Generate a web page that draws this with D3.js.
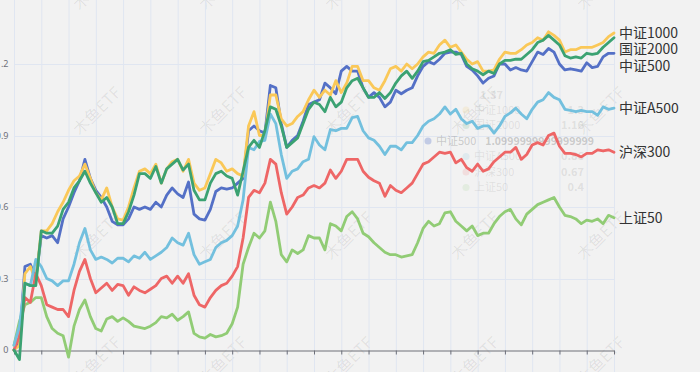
<!DOCTYPE html>
<html>
<head>
<meta charset="utf-8">
<script src="https://cdn.jsdelivr.net/npm/d3@7"></script>
<style>
  html, body { margin: 0; padding: 0; background: #f2f2f2; }
  svg { display: block; font-family: "Noto Sans CJK SC", "Noto Sans", sans-serif; }
</style>
</head>
<body>
<svg id="chart" width="700" height="372"></svg>
<script>
// Cumulative return of six indices (one value per trading step)
const zz1000 = [0.0, 0.02, 0.32, 0.35, 0.29, 0.5, 0.5, 0.53, 0.58, 0.62,
  0.67, 0.71, 0.73, 0.78, 0.72, 0.66, 0.63, 0.68, 0.6, 0.55,
  0.545, 0.6, 0.68, 0.75, 0.76, 0.74, 0.78, 0.7, 0.76, 0.79,
  0.8, 0.75, 0.8, 0.7, 0.67, 0.68, 0.74, 0.8, 0.785, 0.75,
  0.76, 0.74, 0.73, 0.94, 1.0, 0.9, 0.9, 1.07, 1.07, 0.97,
  0.94, 0.95, 0.98, 1.0, 1.05, 1.09, 1.06, 1.09, 1.07, 1.13,
  1.08, 1.12, 1.19, 1.19, 1.13, 1.13, 1.1, 1.09, 1.13, 1.18,
  1.19, 1.17, 1.2, 1.18, 1.2, 1.23, 1.25, 1.245, 1.28, 1.3,
  1.27, 1.28, 1.25, 1.22, 1.2, 1.21, 1.17, 1.17, 1.175, 1.22,
  1.25, 1.245, 1.245, 1.26, 1.28, 1.29, 1.31, 1.3, 1.335, 1.32,
  1.3, 1.25, 1.26, 1.26, 1.27, 1.27, 1.27, 1.28, 1.29, 1.315, 1.33];

const gz2000 = [0.0, -0.04, 0.28, 0.27, 0.27, 0.5, 0.49, 0.49, 0.52, 0.59,
  0.62, 0.68, 0.71, 0.75, 0.7, 0.66, 0.62, 0.64, 0.6, 0.53,
  0.53, 0.58, 0.65, 0.74, 0.74, 0.72, 0.77, 0.7, 0.76, 0.78,
  0.8, 0.755, 0.78, 0.67, 0.63, 0.63, 0.7, 0.74, 0.75, 0.73,
  0.72, 0.65, 0.75, 0.85, 0.88, 0.85, 0.92, 1.02, 1.01, 0.94,
  0.85, 0.87, 0.89, 0.95, 1.01, 1.04, 1.03, 1.0, 1.06, 1.02,
  1.04, 1.1, 1.13, 1.14, 1.1, 1.06, 1.06, 1.08, 1.055, 1.08,
  1.12, 1.15, 1.17, 1.14, 1.17, 1.21, 1.215, 1.23, 1.245, 1.25,
  1.26, 1.24, 1.245, 1.2, 1.18, 1.17, 1.155, 1.17, 1.16, 1.2,
  1.215, 1.215, 1.22, 1.22, 1.24, 1.26, 1.29, 1.3, 1.32, 1.3,
  1.28, 1.235, 1.225, 1.23, 1.225, 1.245, 1.24, 1.245, 1.27, 1.29, 1.31];

const zz500 = [0.0, 0.04, 0.35, 0.36, 0.3, 0.48, 0.47, 0.48, 0.45, 0.55,
  0.6, 0.66, 0.71, 0.8, 0.72, 0.67, 0.64, 0.6, 0.54, 0.525,
  0.525, 0.55, 0.6, 0.59, 0.6, 0.59, 0.62, 0.6, 0.65, 0.68,
  0.655, 0.64, 0.705, 0.57, 0.55, 0.545, 0.59, 0.665, 0.68, 0.675,
  0.68, 0.7, 0.72, 0.92, 0.94, 0.92, 0.91, 1.11, 1.1, 0.95,
  0.85, 0.88, 0.9, 0.96, 1.03, 1.04, 1.05, 1.12, 1.1, 1.075,
  1.17, 1.19, 1.17, 1.17, 1.1, 1.06, 1.08, 1.06, 1.02, 1.04,
  1.09, 1.075, 1.09, 1.1, 1.15, 1.19, 1.21, 1.2, 1.22, 1.245,
  1.25, 1.25, 1.24, 1.19, 1.175, 1.15, 1.12, 1.14, 1.15, 1.2,
  1.2, 1.175, 1.185, 1.175, 1.17, 1.21, 1.25, 1.24, 1.265, 1.25,
  1.2, 1.175, 1.18, 1.175, 1.17, 1.205, 1.185, 1.19, 1.23, 1.245, 1.245];

const zzA500 = [0.02, 0.1, 0.28, 0.27, 0.38, 0.35, 0.3, 0.29, 0.27, 0.29,
  0.29, 0.36, 0.45, 0.51, 0.42, 0.38, 0.39, 0.38, 0.365, 0.385,
  0.385, 0.37, 0.395, 0.385, 0.41, 0.38, 0.395, 0.41, 0.43, 0.47,
  0.45, 0.44, 0.49, 0.4, 0.36, 0.37, 0.38, 0.43, 0.45, 0.46,
  0.48, 0.52, 0.63, 0.85, 0.84, 0.875, 0.88, 0.99, 0.95, 0.82,
  0.72, 0.75, 0.76, 0.79, 0.8, 0.895, 0.86, 0.84, 0.925, 0.92,
  0.93, 0.93, 0.975, 0.98, 0.92, 0.89, 0.88, 0.855, 0.82, 0.855,
  0.855, 0.84, 0.87, 0.87, 0.9, 0.94, 0.96, 0.97, 0.99, 1.02,
  0.99, 1.01, 0.97, 0.95, 0.96, 0.93, 0.94, 0.94, 0.91, 0.94,
  0.98, 0.995, 1.015, 0.99, 0.97, 1.01, 1.04, 1.05, 1.08, 1.06,
  1.05, 1.01, 1.005, 1.0, 1.005, 1.0, 1.0, 0.985, 1.02, 1.01, 1.015];

const hs300 = [0.0, 0.06, 0.22, 0.2, 0.32, 0.27, 0.19, 0.18, 0.17, 0.17,
  0.14, 0.25, 0.33, 0.38, 0.3, 0.24, 0.26, 0.28, 0.25, 0.275,
  0.27, 0.23, 0.265, 0.25, 0.24, 0.255, 0.27, 0.3, 0.31, 0.28,
  0.31, 0.28, 0.32, 0.23, 0.19, 0.18, 0.22, 0.25, 0.27, 0.28,
  0.31, 0.35, 0.47, 0.64, 0.67, 0.66, 0.7, 0.8, 0.78, 0.66,
  0.57, 0.6, 0.64, 0.65, 0.68, 0.69, 0.68, 0.7, 0.755, 0.72,
  0.75, 0.8, 0.8, 0.8, 0.75, 0.725, 0.71, 0.7, 0.645, 0.69,
  0.67, 0.66, 0.68, 0.7, 0.74, 0.78, 0.79, 0.81, 0.83, 0.825,
  0.83, 0.785, 0.8, 0.765, 0.75, 0.78, 0.75, 0.76, 0.79, 0.81,
  0.83, 0.83, 0.85, 0.8, 0.82, 0.86, 0.87, 0.86, 0.9, 0.91,
  0.855, 0.825, 0.825, 0.82, 0.81, 0.825, 0.825, 0.84, 0.835, 0.84, 0.83];

const sz50 = [0.02, 0.12, 0.19, 0.2, 0.22, 0.22, 0.14, 0.09, 0.07, 0.06,
  -0.03, 0.1, 0.17, 0.21, 0.14, 0.09, 0.08, 0.13, 0.14, 0.12,
  0.135, 0.12, 0.1, 0.095, 0.09, 0.1, 0.115, 0.14, 0.135, 0.15,
  0.125, 0.14, 0.16, 0.07, 0.055, 0.05, 0.065, 0.055, 0.06, 0.07,
  0.11, 0.18, 0.36, 0.43, 0.49, 0.47, 0.5, 0.62, 0.54, 0.4,
  0.37, 0.42, 0.405, 0.42, 0.48, 0.47, 0.47, 0.42, 0.53, 0.52,
  0.5, 0.56, 0.58, 0.55, 0.49, 0.475, 0.45, 0.43, 0.41, 0.4,
  0.4, 0.39, 0.395, 0.4, 0.45, 0.51, 0.54, 0.52, 0.53, 0.575,
  0.58, 0.54, 0.52, 0.5, 0.52, 0.48, 0.49, 0.49, 0.53, 0.56,
  0.58, 0.59, 0.55, 0.525, 0.57, 0.59, 0.61, 0.62, 0.63, 0.64,
  0.6, 0.565, 0.56, 0.55, 0.53, 0.545, 0.54, 0.55, 0.53, 0.565, 0.555];

// drawing order = series order (later ones on top)
const seriesNames = ["中证500", "上证50", "中证1000", "沪深300", "中证A500", "国证2000"];
const seriesValues = [zz500, sz50, zz1000, hs300, zzA500, gz2000];
const seriesColors = ["#5470c6", "#91cc75", "#fac858", "#ee6666", "#73c0de", "#3ba272"];

const yTicks = [0, 0.3, 0.6, 0.9, 1.2];
const watermark = "木鱼ETF";

// faded tooltip left on the picture
const tipTitle = "1.37";
const tipNames = ["中证1000", "国证2000", "中证500", "中证A500", "沪深300", "上证50"];
const tipValues = ["1.3", "1.16", "1.0999999999999999", "0.86", "0.67", "0.4"];
const tipColors = ["#fac858", "#3ba272", "#5470c6", "#73c0de", "#ee6666", "#91cc75"];

const WIDTH = 700, HEIGHT = 372;
const MARGIN = {left: 14, right: 86, zeroY: 350};
const N = zz1000.length;

const svg = d3.select("#chart");

const x = d3.scaleLinear()
  .domain([0, N - 1])
  .range([MARGIN.left, WIDTH - MARGIN.right]);

const y = d3.scaleLinear()
  .domain([0, 1.2])
  .range([MARGIN.zeroY, 64]);

// watermark tiles
const wm = svg.append("g").attr("class", "watermark");
for (let j = 0; j < 4; j++) {
  for (let k = 0; k < 5; k++) {
    wm.append("text")
      .attr("transform", `translate(${97 + 126 * k},${-14 + 125 * j}) rotate(-45)`)
      .attr("text-anchor", "middle")
      .attr("dy", "0.35em")
      .style("font-size", "16px")
      .style("fill", "#000")
      .style("fill-opacity", 0.08)
      .text(watermark);
  }
}

// vertical grid + x ticks
const xTickValues = d3.range(0, N, 5);
svg.append("g")
  .selectAll("line")
  .data(xTickValues)
  .join("line")
  .attr("x1", d => x(d) + 0.5).attr("x2", d => x(d) + 0.5)
  .attr("y1", 0).attr("y2", HEIGHT)
  .attr("stroke", "#e0e6f1")
  .attr("stroke-width", 1);

// horizontal grid
svg.append("g")
  .selectAll("line")
  .data(yTicks.filter(d => d !== 0))
  .join("line")
  .attr("x1", x(0)).attr("x2", x(N - 1))
  .attr("y1", d => Math.round(y(d)) + 0.5).attr("y2", d => Math.round(y(d)) + 0.5)
  .attr("stroke", "#e0e6f1")
  .attr("stroke-width", 1);

// y axis labels
const yAxis = svg.append("g")
  .attr("transform", `translate(${MARGIN.left},0)`)
  .call(d3.axisLeft(y).tickValues(yTicks).tickSize(0).tickPadding(5.5).tickFormat(d3.format("~g")));
yAxis.select(".domain").remove();
yAxis.selectAll("text")
  .style("font-family", "'Noto Sans', sans-serif")
  .style("font-size", "9px")
  .style("fill", "#6e7079");

// faded tooltip ghost
const tip = svg.append("g").attr("class", "tip-ghost");
tip.append("text")
  .attr("x", 503).attr("y", 95).attr("dy", "0.35em")
  .attr("text-anchor", "end")
  .style("font-size", "11px").style("font-weight", "bold")
  .style("fill", "#666").style("fill-opacity", 0.15)
  .text(tipTitle);
tipNames.forEach((name, i) => {
  const strong = name === "中证500";
  const rowY = 110 + i * 15.5;
  const x0 = strong ? 428 : 466;
  const op = strong ? 0.3 : 0.14;
  tip.append("circle")
    .attr("cx", x0).attr("cy", rowY).attr("r", 3.5)
    .style("fill", tipColors[i]).style("fill-opacity", op);
  tip.append("text")
    .attr("x", x0 + 8).attr("y", rowY).attr("dy", "0.35em")
    .style("font-size", "11px")
    .style("fill", "#666").style("fill-opacity", op)
    .text(name);
  tip.append("text")
    .attr("x", strong ? 594 : 584).attr("y", rowY).attr("dy", "0.35em")
    .attr("text-anchor", "end")
    .style("font-size", strong ? "10.5px" : "11px").style("font-weight", "bold")
    .style("fill", "#666").style("fill-opacity", op)
    .text(tipValues[i]);
});

// x axis at zero
const xAxis = svg.append("g")
  .attr("transform", `translate(0,${MARGIN.zeroY + 0.5})`)
  .call(d3.axisBottom(x).tickValues(xTickValues).tickSize(4).tickSizeOuter(0).tickFormat(""));
xAxis.select(".domain").attr("stroke", "#6e7079");
xAxis.selectAll(".tick line").attr("stroke", "#6e7079");

// lines
const line = d3.line()
  .x((d, i) => x(i))
  .y(d => y(d));

svg.append("g")
  .selectAll("path")
  .data(seriesValues)
  .join("path")
  .attr("d", line)
  .attr("fill", "none")
  .attr("stroke", (d, i) => seriesColors[i])
  .attr("stroke-width", 2.8)
  .attr("stroke-linejoin", "round")
  .attr("stroke-linecap", "round");

// end labels, pushed apart so they do not overlap
const labels = seriesNames.map((name, i) => ({
  name,
  y: y(seriesValues[i][N - 1])
})).sort((a, b) => a.y - b.y);
const GAP = 16.5;
for (let i = 1; i < labels.length; i++) {
  if (labels[i].y - labels[i - 1].y < GAP) labels[i].y = labels[i - 1].y + GAP;
}

svg.append("g")
  .selectAll("text")
  .data(labels)
  .join("text")
  .attr("x", x(N - 1) + 5)
  .attr("y", d => d.y)
  .attr("dy", "0.35em")
  .style("font-size", "14px")
  .style("fill", "#333")
  .text(d => d.name);
</script>
</body>
</html>
